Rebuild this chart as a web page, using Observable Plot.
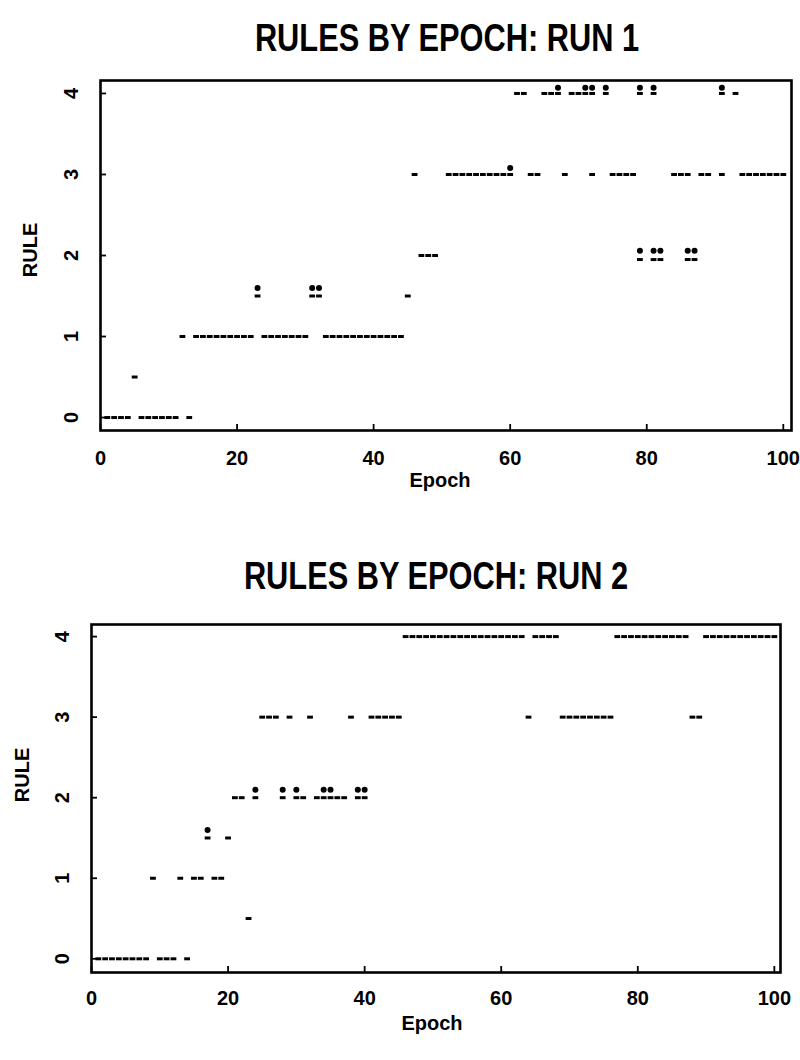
<!DOCTYPE html>
<html>
<head>
<meta charset="utf-8">
<script src="https://cdn.jsdelivr.net/npm/d3@7"></script>
<script src="https://cdn.jsdelivr.net/npm/@observablehq/plot@0.6"></script>
<style>
  body { margin: 0; background: #fff; }
  #wrap { position: relative; width: 800px; height: 1060px; font-family: "Liberation Sans", Arial, sans-serif; color: #000; overflow: hidden; }
  .title { position: absolute; font-family: "Liberation Sans", Arial, sans-serif; font-weight: bold; font-size: 38px; line-height: 38px; white-space: nowrap; transform: translateX(-50%) scaleX(0.81); z-index: 2; }
  .xlab { position: absolute; font-weight: bold; font-size: 20px; line-height: 20px; white-space: nowrap; transform: translateX(-50%); z-index: 2; }
  .ylab { position: absolute; font-weight: bold; font-size: 20px; line-height: 20px; white-space: nowrap; transform: translate(-50%, -50%) rotate(-90deg); z-index: 2; }
  .panel { position: absolute; left: 0; }
</style>
</head>
<body>
<div id="wrap"></div>
<script>
// ---------- data ----------
const xTicks = [0, 20, 40, 60, 80, 100];
const yTicks = [0, 1, 2, 3, 4];

// Run 1: rule shown by a dash at each epoch
const run1Epoch = [1,2,3,4,5,6,7,8,9,10,11,12,13,14,15,16,17,18,19,20,21,22,23,24,25,26,27,28,29,30,31,32,33,34,35,36,37,38,39,40,41,42,43,44,45,46,47,48,49,51,52,53,54,55,56,57,58,59,60,61,62,63,64,65,66,67,68,69,70,71,72,72,74,75,76,77,78,79,79,81,81,82,84,85,86,86,87,88,89,91,91,93,94,95,96,97,98,99,100];
const run1Rule  = [0,0,0,0,0.5,0,0,0,0,0,0,1,0,1,1,1,1,1,1,1,1,1,1.5,1,1,1,1,1,1,1,1.5,1.5,1,1,1,1,1,1,1,1,1,1,1,1,1.5,3,2,2,2,3,3,3,3,3,3,3,3,3,3,4,4,3,3,4,4,4,3,4,4,4,4,3,4,3,3,3,3,4,1.95,4,1.95,1.95,3,3,3,1.95,1.95,3,3,3,4,4,3,3,3,3,3,3,3];
// Run 1: extra round markers (ties) drawn just above some dashes
const run1DotEpoch = [23,31,32,60,67,71,72,74,79,81,91,79,81,82,86,87];
const run1DotRule  = [1.6,1.6,1.6,3.08,4.07,4.07,4.07,4.07,4.07,4.07,4.07,2.06,2.06,2.06,2.06,2.06];

// Run 2
const run2Epoch = [1,2,3,4,5,6,7,8,9,10,11,12,13,14,15,16,17,18,19,20,21,22,23,24,25,26,27,28,29,30,31,32,33,34,35,36,37,38,39,40,41,42,43,44,45,46,47,48,49,50,51,52,53,54,55,56,57,58,59,60,61,62,63,64,65,66,67,68,69,70,71,72,73,74,75,76,77,78,79,80,81,82,83,84,85,86,87,88,89,90,91,92,93,94,95,96,97,98,99,100];
const run2Rule  = [0,0,0,0,0,0,0,0,1,0,0,0,1,0,1,1,1.5,1,1,1.5,2,2,0.5,2,3,3,3,2,3,2,2,3,2,2,2,2,2,3,2,2,3,3,3,3,3,4,4,4,4,4,4,4,4,4,4,4,4,4,4,4,4,4,4,3,4,4,4,4,3,3,3,3,3,3,3,3,4,4,4,4,4,4,4,4,4,4,4,3,3,4,4,4,4,4,4,4,4,4,4,4];
const run2DotEpoch = [17,24,28,30,34,35,39,40];
const run2DotRule  = [1.6,2.1,2.1,2.1,2.1,2.1,2.1,2.1];

// ---------- drawing ----------
const dashSymbol = {
  draw(ctx) {
    ctx.moveTo(-2.9, -1.5); ctx.lineTo(2.9, -1.5); ctx.lineTo(2.9, 1.5); ctx.lineTo(-2.9, 1.5); ctx.closePath();
  }
};

function panel(o) {
  const dashes = o.epochs.map((e, i) => ({epoch: e, rule: o.rules[i]}));
  const dots = o.dotEpochs.map((e, i) => ({epoch: e, rule: o.dotRules[i]}));
  return Plot.plot({
    width: 800, height: o.height,
    marginLeft: o.marginLeft, marginRight: o.marginRight, marginTop: o.marginTop, marginBottom: o.marginBottom,
    style: {fontFamily: "'Liberation Sans', Arial, sans-serif", fontSize: "20px", fontWeight: "bold", color: "black", background: "transparent", overflow: "visible"},
    x: {domain: o.xDomain},
    y: {domain: o.yDomain},
    marks: [
      Plot.frame({stroke: "black", strokeWidth: 2.6}),
      Plot.axisX(xTicks, {tickSize: -6, fill: "none", strokeWidth: 1.8, label: null}),
      Plot.axisX(xTicks, {tickSize: 0, tickPadding: o.xPad, label: null, fontWeight: "bold", tickFormat: d => String(d)}),
      Plot.axisY(yTicks, {tickSize: -6, fill: "none", strokeWidth: 1.8, label: null}),
      Plot.axisY(yTicks, {tickSize: 0, tickPadding: o.yPad, tickRotate: -90, textAnchor: "middle", lineAnchor: "middle", label: null, fontWeight: "bold", tickFormat: d => String(d)}),
      Plot.dot(dashes, {x: "epoch", y: "rule", symbol: dashSymbol, fill: "black", stroke: "none"}),
      Plot.dot(dots, {x: "epoch", y: "rule", r: 3, fill: "black", stroke: "none"})
    ]
  });
}

const wrap = document.getElementById("wrap");
function addDiv(cls, text, left, top) {
  const d = document.createElement("div");
  d.className = cls; d.textContent = text;
  d.style.left = left + "px"; d.style.top = top + "px";
  wrap.appendChild(d);
}

const p1 = panel({epochs: run1Epoch, rules: run1Rule, dotEpochs: run1DotEpoch, dotRules: run1DotRule,
  height: 510, marginTop: 80, marginBottom: 80, marginLeft: 100, marginRight: 9,
  xDomain: [0, 101.2], yDomain: [-0.16, 4.16], xPad: 20, yPad: 29});
p1.classList.add("panel"); p1.style.top = "0px";
wrap.appendChild(p1);

const p2 = panel({epochs: run2Epoch, rules: run2Rule, dotEpochs: run2DotEpoch, dotRules: run2DotRule,
  height: 530, marginTop: 94, marginBottom: 88, marginLeft: 91, marginRight: 20,
  xDomain: [0, 100.9], yDomain: [-0.17, 4.15], xPad: 18, yPad: 29});
p2.classList.add("panel"); p2.style.top = "530px";
wrap.appendChild(p2);

addDiv("title", "RULES BY EPOCH: RUN 1", 447, 19);
addDiv("title", "RULES BY EPOCH: RUN 2", 436, 557);
addDiv("xlab", "Epoch", 440, 470);
addDiv("xlab", "Epoch", 432, 1013);
addDiv("ylab", "RULE", 30, 250);
addDiv("ylab", "RULE", 22, 775);
</script>
</body>
</html>
